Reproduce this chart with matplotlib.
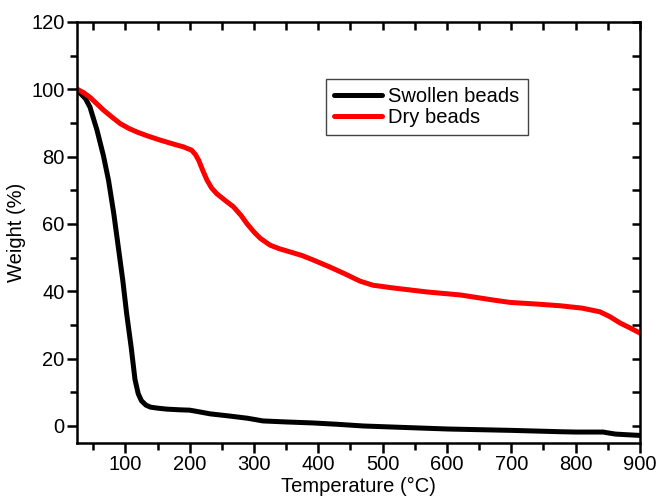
import numpy as np
import matplotlib
matplotlib.use("Agg")
import matplotlib.pyplot as plt
from matplotlib.ticker import MultipleLocator

plt.rcParams['font.family'] = ['Liberation Sans', 'DejaVu Sans']

# TGA curves
swollen_t = [25, 30, 38, 45, 56, 66, 74, 82, 89, 96, 102, 109, 115, 120, 125,
             132, 139, 150, 165, 185, 200, 215, 232, 260, 290, 314, 350, 392,
             430, 470, 543, 602, 700, 776, 801, 843, 852, 862, 880, 900]
swollen_w = [100, 98.8, 97.2, 94.7, 87.8, 80.2, 72.8, 63.1, 53.2, 43.3, 33.4,
             23.5, 13.8, 9.6, 7.5, 6.2, 5.6, 5.3, 5.0, 4.8, 4.7, 4.2, 3.6,
             3.0, 2.3, 1.5, 1.2, 0.9, 0.5, 0.0, -0.5, -0.9, -1.3, -1.7, -1.8,
             -1.8, -2.1, -2.4, -2.6, -2.8]

dry_t = [25, 35, 45, 55, 66, 80, 92, 105, 118, 135, 154, 175, 190, 203, 209,
         214, 221, 227, 234, 242, 255, 268, 280, 289, 300, 310, 325, 340, 356,
         375, 392, 418, 440, 465, 485, 516, 569, 621, 672, 698, 740, 776, 810,
         838, 854, 869, 885, 900]
dry_w = [100, 99.0, 97.6, 95.8, 93.8, 91.6, 89.8, 88.4, 87.3, 86.1, 84.9,
         83.7, 82.9, 81.9, 80.6, 78.9, 75.6, 73, 70.7, 69, 67.0, 65.1, 62.5,
         60.1, 57.6, 55.7, 53.7, 52.6, 51.7, 50.6, 49.3, 47.2, 45.3, 43.0, 41.8,
         41.0, 39.8, 38.9, 37.4, 36.7, 36.2, 35.7, 35.0, 33.9, 32.4, 30.6,
         29.1, 27.6]

fig = plt.figure(figsize=(6.59, 4.97), dpi=100)
ax = fig.add_axes([0.117, 0.109, 0.854, 0.847])

ax.plot(swollen_t, swollen_w, color="black", lw=3.6, label="Swollen beads",
        solid_joinstyle="round", solid_capstyle="round")
ax.plot(dry_t, dry_w, color="#ff0000", lw=3.6, label="Dry beads",
        solid_joinstyle="round", solid_capstyle="round")

ax.set_xlim(25, 900)
ax.set_ylim(-5, 120)
ax.xaxis.set_major_locator(MultipleLocator(100))
ax.xaxis.set_minor_locator(MultipleLocator(50))
ax.yaxis.set_major_locator(MultipleLocator(20))
ax.yaxis.set_minor_locator(MultipleLocator(10))

for s in ax.spines.values():
    s.set_linewidth(1.8)

ax.tick_params(axis="both", which="both", direction="out", width=1.8,
               labelsize=14.5, pad=2)
ax.tick_params(axis="both", which="major", length=7)
ax.tick_params(axis="both", which="minor", length=5)

# inward ticks on the top and right frame
sx = ax.secondary_xaxis("top")
sx.xaxis.set_major_locator(MultipleLocator(50))
sx.tick_params(direction="in", length=6, width=1.8, labeltop=False)
sx.spines["top"].set_visible(False)
sy = ax.secondary_yaxis("right")
sy.yaxis.set_major_locator(MultipleLocator(10))
sy.tick_params(direction="in", length=6, width=1.8, labelright=False)
sy.spines["right"].set_visible(False)

ax.set_xlabel("Temperature (°C)", fontsize=14.5, labelpad=2)
ax.set_ylabel("Weight (%)", fontsize=14.5, labelpad=4)

leg = ax.legend(loc="upper left", bbox_to_anchor=(0.442, 0.865),
                borderaxespad=0, fontsize=14.5, fancybox=False,
                handlelength=2.4, handletextpad=0.3, borderpad=0.4,
                labelspacing=0.12, framealpha=1)
leg.get_frame().set_edgecolor("#444444")
leg.get_frame().set_linewidth(1.0)

fig.savefig("out.png", dpi=100)
